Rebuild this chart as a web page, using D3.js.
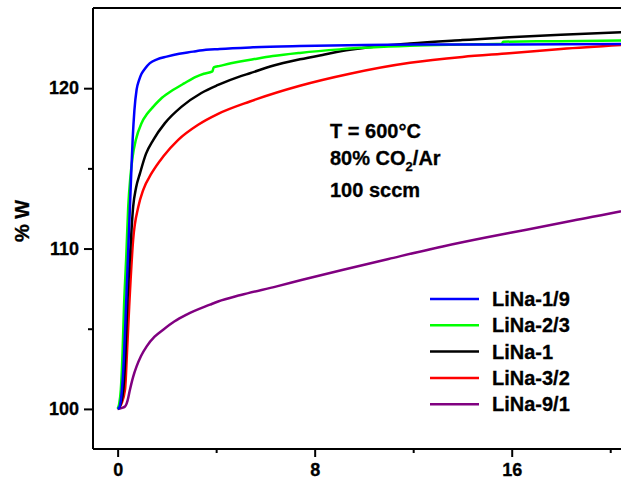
<!DOCTYPE html>
<html>
<head>
<meta charset="utf-8">
<script src="https://cdn.jsdelivr.net/npm/d3@7"></script>
<style>
  body { margin: 0; background: #fff; }
  text { font-family: "Liberation Sans", Arial, sans-serif; font-weight: bold; fill: #000; stroke: #000; stroke-width: 0.3px; }
</style>
</head>
<body>
<div id="chart"></div>
<script>
// Series names + colours (legend order)
var seriesNames = ["LiNa-1/9", "LiNa-2/3", "LiNa-1", "LiNa-3/2", "LiNa-9/1"];
var seriesColors = ["#0000ff", "#00ff00", "#000000", "#ff0000", "#800080"];

// Time values and % weight, one pair of arrays per sample
var blueT = [0, 0.07, 0.15, 0.25, 0.34, 0.42, 0.5, 0.56, 0.61, 0.68, 0.77, 0.87, 0.97, 1.1, 1.31, 1.6, 1.99, 2.5, 3.07, 3.34, 4.15, 5.5, 7.4, 10, 12, 16, 21];
var blueW = [100, 100.1, 100.8, 103, 106.4, 109.5, 112.6, 115, 116.8, 118.6, 119.9, 120.5, 120.9, 121.2, 121.56, 121.8, 121.97, 122.15, 122.28, 122.35, 122.45, 122.55, 122.63, 122.7, 122.72, 122.73, 122.75];

var greenT = [0, 0.06, 0.13, 0.2, 0.26, 0.35, 0.43, 0.52, 0.61, 0.74, 0.97, 1.2, 1.45, 1.8, 2.26, 2.7, 3.2, 3.5, 3.85, 3.9, 4.15, 4.6, 4.97, 5.5, 6.3, 7.4, 9, 11.87, 14, 15.6, 15.65, 18, 21];
var greenW = [100, 100.3, 101.2, 103.5, 106.4, 109.5, 112.6, 114.5, 115.74, 116.78, 117.82, 118.4, 118.85, 119.4, 119.9, 120.3, 120.72, 120.9, 121.05, 121.3, 121.39, 121.55, 121.66, 121.8, 122.0, 122.2, 122.42, 122.64, 122.72, 122.77, 122.9, 122.93, 122.98];

var blackT = [0, 0.1, 0.23, 0.32, 0.39, 0.5, 0.63, 0.75, 0.91, 1.15, 1.45, 1.92, 2.6, 3.4, 4.08, 5, 5.37, 6.3, 7.4, 8.4, 9.43, 10.5, 11.87, 14, 15.9, 18, 21];
var blackW = [100, 100.2, 101.2, 103.5, 106.4, 109.5, 112.6, 113.8, 114.7, 115.9, 116.78, 117.82, 118.85, 119.7, 120.2, 120.75, 120.93, 121.4, 121.8, 122.1, 122.39, 122.6, 122.78, 123.0, 123.18, 123.33, 123.52];

var redT = [0, 0.15, 0.3, 0.38, 0.47, 0.63, 0.84, 1.04, 1.38, 1.85, 2.46, 3.27, 4.08, 5.37, 7.4, 9.43, 11.87, 14, 15.9, 18, 21];
var redW = [100, 100.3, 101.2, 103.5, 106.4, 110.55, 112.6, 113.66, 114.7, 115.74, 116.78, 117.72, 118.4, 119.17, 120.15, 120.9, 121.58, 121.95, 122.18, 122.45, 122.75];

var purpleT = [0, 0.15, 0.3, 0.4, 0.5, 0.63, 0.77, 0.95, 1.18, 1.5, 1.85, 2.3, 2.8, 3.75, 4.08, 5, 6.46, 7.5, 9.16, 11, 13.2, 15, 16.6, 18.5, 20.4, 21];
var purpleW = [100, 100.05, 100.15, 100.5, 101.2, 102.0, 102.65, 103.3, 103.9, 104.5, 104.94, 105.45, 105.88, 106.5, 106.7, 107.1, 107.64, 108.05, 108.68, 109.35, 110.13, 110.7, 111.17, 111.75, 112.31, 112.5];

// Ticks
var xMajorTicks = [0, 8, 16];
var xMinorTicks = [4, 12, 20];
var yMajorTicks = [100, 110, 120];
var yMinorTicks = [105, 115];

// Notes in the plot
var noteLines = ["T = 600°C", "80% CO", "100 sccm"];

var svgWidth = 621;
var svgHeight = 479;

// plot box (right side is cut off by the picture)
var margin = { top: 8, left: 93, bottom: 449 };

var svg = d3.select("#chart")
  .append("svg")
  .attr("width", svgWidth)
  .attr("height", svgHeight);

var xScale = d3.scaleLinear()
  .domain([-1, 21])
  .range([margin.left, margin.left + 22 * 24.63]);

var yScale = d3.scaleLinear()
  .domain([97.5, 125])
  .range([margin.bottom, margin.top]);

// clip so lines stop at the axes
svg.append("clipPath")
  .attr("id", "plotClip")
  .append("rect")
  .attr("x", margin.left)
  .attr("y", margin.top)
  .attr("width", svgWidth - margin.left)
  .attr("height", margin.bottom - margin.top);

var allT = [blueT, greenT, blackT, redT, purpleT];
var allW = [blueW, greenW, blackW, redW, purpleW];

var line = d3.line()
  .x(d => xScale(d[0]))
  .y(d => yScale(d[1]))
  .curve(d3.curveMonotoneX);

var linesGroup = svg.append("g").attr("clip-path", "url(#plotClip)");

// draw purple first so the others sit on top roughly like the original
[4, 3, 2, 1, 0].forEach(function(i) {
  var pts = allT[i].map((t, j) => [t, allW[i][j]]);
  linesGroup.append("path")
    .datum(pts)
    .attr("d", line)
    .attr("fill", "none")
    .attr("stroke", seriesColors[i])
    .attr("stroke-width", 2.5)
    .attr("stroke-linejoin", "round");
});

// Bottom axis - majors with labels, minors without
var bottomAxis = svg.append("g")
  .attr("transform", `translate(0, ${margin.bottom})`)
  .call(d3.axisBottom(xScale).tickValues(xMajorTicks).tickSize(8).tickPadding(6).tickFormat(d3.format("d")));

svg.append("g")
  .attr("transform", `translate(0, ${margin.bottom})`)
  .call(d3.axisBottom(xScale).tickValues(xMinorTicks).tickSize(4).tickFormat(""))
  .select(".domain").remove();

var leftAxis = svg.append("g")
  .attr("transform", `translate(${margin.left}, 0)`)
  .call(d3.axisLeft(yScale).tickValues(yMajorTicks).tickSize(9).tickPadding(5).tickFormat(d3.format("d")));

svg.append("g")
  .attr("transform", `translate(${margin.left}, 0)`)
  .call(d3.axisLeft(yScale).tickValues(yMinorTicks).tickSize(5).tickFormat(""))
  .select(".domain").remove();

// style axes like the original (thick black, bold labels)
svg.selectAll(".domain").attr("stroke", "#000").attr("stroke-width", 2);
svg.selectAll(".tick line").attr("stroke", "#000").attr("stroke-width", 2);
svg.selectAll(".tick text")
  .style("font-family", "'Liberation Sans', Arial, sans-serif")
  .style("font-weight", "bold")
  .style("font-size", "18px")
  .attr("fill", "#000");

// left axis domain line should run the full height without end ticks
leftAxis.select(".domain").attr("d", `M0,${margin.top}V${margin.bottom}`);
bottomAxis.select(".domain").attr("d", `M${margin.left},0H${svgWidth}`);

// top frame line
svg.append("line")
  .attr("x1", margin.left)
  .attr("x2", svgWidth)
  .attr("y1", margin.top)
  .attr("y2", margin.top)
  .attr("stroke", "#000")
  .attr("stroke-width", 2);

// y axis title
svg.append("text")
  .attr("transform", "translate(29, 221) rotate(-90)")
  .attr("text-anchor", "middle")
  .style("font-size", "20px")
  .text("% W");

// conditions note
var note = svg.append("g").style("font-size", "20px");
note.append("text").attr("x", 330).attr("y", 138).text(noteLines[0]);
var coLine = note.append("text").attr("x", 330).attr("y", 165);
coLine.append("tspan").text(noteLines[1]);
coLine.append("tspan").attr("dy", 6).style("font-size", "13px").text("2");
coLine.append("tspan").attr("dy", -6).text("/Ar");
note.append("text").attr("x", 330).attr("y", 197).text(noteLines[2]);

// legend
var legend = svg.append("g");
seriesNames.forEach(function(name, i) {
  var ly = 299 + i * 26.3;
  legend.append("line")
    .attr("x1", 430).attr("x2", 479)
    .attr("y1", ly).attr("y2", ly)
    .attr("stroke", seriesColors[i])
    .attr("stroke-width", 2.5);
  legend.append("text")
    .attr("x", 492)
    .attr("y", ly + 7)
    .style("font-size", "20px")
    .text(name);
});
</script>
</body>
</html>
